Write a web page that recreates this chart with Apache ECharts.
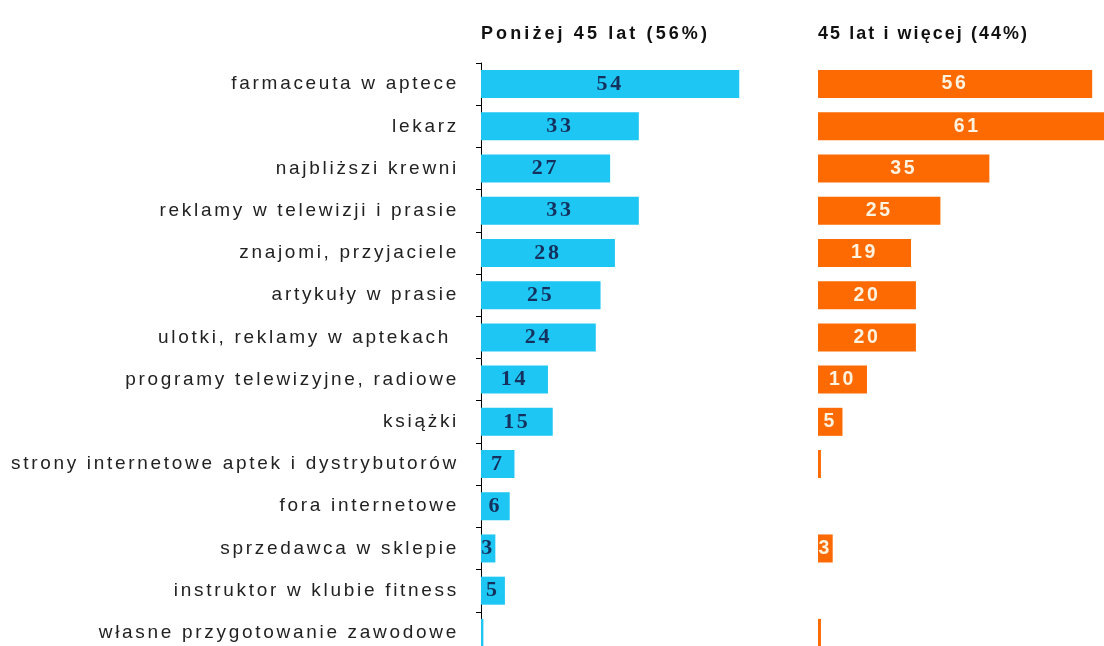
<!DOCTYPE html>
<html><head><meta charset="utf-8">
<script src="https://cdn.jsdelivr.net/npm/echarts@6/dist/echarts.min.js"></script>
<style>html,body{margin:0;padding:0;background:#fff;overflow:hidden;width:1104px;height:646px}#c{width:1130px;height:660px}</style>
</head><body><div id="c"></div>
<script>
const categories = ["farmaceuta w aptece","lekarz","najbliższi krewni","reklamy w telewizji i prasie","znajomi, przyjaciele","artykuły w prasie","ulotki, reklamy w aptekach ","programy telewizyjne, radiowe","książki","strony internetowe aptek i dystrybutorów","fora internetowe","sprzedawca w sklepie","instruktor w klubie fitness","własne przygotowanie zawodowe"];
const under45 = [54,33,27,33,28,25,24,14,15,7,6,3,5,0.5];
const over45 = [56,61,35,25,19,20,20,10,5,0.6,0,3,0,0.6];
const under45Labels = ["54","33","27","33","28","25","24","14","15","7","6","3","5",""];
const over45Labels = ["56","61","35","25","19","20","20","10","5","","","3","",""];
const headers = ["Poniżej 45 lat (56%)","45 lat i więcej (44%)"];

// letter spacing for the wide, spaced-out text of the original
(function(){
  const proto = CanvasRenderingContext2D.prototype;
  const orig = proto.fillText;
  proto.fillText = function(t,x,y,w){
    const f = this.font || '';
    const bold = /bold|700/.test(f);
    let sp = 0;
    if (bold && /(^|\s)18px/.test(f)) sp = 3.1;
    else if (bold && /17\.9px/.test(f)) sp = 2.1;
    else if (!bold && /(^|\s)19px/.test(f)) sp = 2.7;
    if (sp && 'letterSpacing' in this) {
      const prev = this.letterSpacing;
      this.letterSpacing = sp + 'px';
      orig.call(this,t,x,y,w);
      this.letterSpacing = prev;
    } else {
      orig.call(this,t,x,y,w);
    }
  };
})();

const chart = echarts.init(document.getElementById('c'));
chart.setOption({
  animation:false,
  backgroundColor:'#fff',
  title:[
    {text:headers[0],left:481,top:25,padding:0,textStyle:{fontFamily:'Liberation Sans',fontWeight:'bold',fontSize:18,color:'#111'}},
    {text:headers[1],left:818,top:25,padding:0,textStyle:{fontFamily:'Liberation Sans',fontWeight:'bold',fontSize:17.9,color:'#111'}}
  ],
  grid:[
    {left:481,top:63,width:330,height:591},
    {left:818,top:63,width:306,height:591}
  ],
  xAxis:[
    {gridIndex:0,type:'value',min:0,max:69,show:false},
    {gridIndex:1,type:'value',min:0,max:62.5,show:false}
  ],
  yAxis:[
    {gridIndex:0,type:'category',inverse:true,data:categories,
     axisLine:{show:true,lineStyle:{color:'#000',width:1}},
     axisTick:{show:true,length:5,lineStyle:{color:'#000'}},
     axisLabel:{margin:22,fontFamily:'Liberation Sans',fontSize:19,color:'#222'},
     splitLine:{show:false}},
    {gridIndex:1,type:'category',inverse:true,data:categories,show:false}
  ],
  series:[
    {type:'bar',xAxisIndex:0,yAxisIndex:0,data:under45,barCategoryGap:'33.6%',
     itemStyle:{color:'#1ec6f4'},
     label:{show:true,position:'inside',formatter:p=>under45Labels[p.dataIndex],
       fontFamily:'Liberation Serif',fontWeight:'bold',fontSize:22,color:'#15305c'}},
    {type:'bar',xAxisIndex:1,yAxisIndex:1,data:over45,barCategoryGap:'33.6%',
     itemStyle:{color:'#fd6a02'},
     label:{show:true,position:'inside',formatter:p=>over45Labels[p.dataIndex],
       fontFamily:'Liberation Sans',fontWeight:'bold',fontSize:19.5,color:'#fff3e0'}}
  ]
});
</script></body></html>
